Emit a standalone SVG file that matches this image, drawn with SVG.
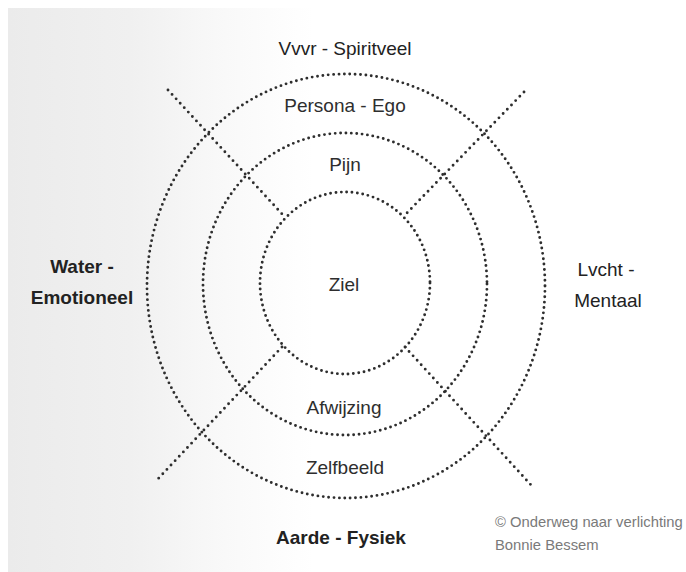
<svg xmlns="http://www.w3.org/2000/svg" width="686" height="572" viewBox="0 0 686 572">
<defs>
<linearGradient id="paper" x1="0" y1="0" x2="1" y2="0">
<stop offset="0" stop-color="#ebebeb"/>
<stop offset="0.18" stop-color="#f0f0f0"/>
<stop offset="0.32" stop-color="#f9f9f9"/>
<stop offset="0.45" stop-color="#ffffff"/>
</linearGradient>
<style>
.ring{fill:none;stroke:#2e2e2e;stroke-width:2.9;stroke-linecap:round;stroke-dasharray:0 5.4}
.cut{fill:none;stroke:#2e2e2e;stroke-width:2.9;stroke-linecap:round;stroke-dasharray:0 6}
.lbl{font-family:"Liberation Sans",Arial,sans-serif;font-size:19px;fill:#2e2e2e;text-anchor:middle}
.el{font-family:"Liberation Sans",Arial,sans-serif;font-size:19px;fill:#222;text-anchor:middle}
.b{font-weight:bold}
.copy{font-family:"Liberation Sans",Arial,sans-serif;font-size:14.8px;fill:#7a7a7a}
</style>
</defs>
<rect width="686" height="572" fill="#ffffff"/>
<rect x="8" y="8" width="678" height="564" fill="url(#paper)"/>

<g id="connectors">
<line class="cut" x1="168" y1="90" x2="283" y2="215"/>
<line class="cut" x1="524" y1="92" x2="405" y2="215"/>
<line class="cut" x1="282" y1="347" x2="156" y2="481"/>
<line class="cut" x1="405" y1="347" x2="531" y2="485"/>
</g>

<g id="ring-outer">
<ellipse class="ring" cx="346" cy="286" rx="199" ry="212"/>
<text class="lbl" x="345" y="112">Persona - Ego</text>
<text class="lbl" x="345" y="474">Zelfbeeld</text>
</g>

<g id="ring-middle">
<ellipse class="ring" cx="345" cy="284" rx="142" ry="151"/>
<text class="lbl" x="345" y="171">Pijn</text>
<text class="lbl" x="344" y="414">Afwijzing</text>
</g>

<g id="ring-inner">
<ellipse class="ring" cx="345" cy="283" rx="85" ry="91"/>
<text class="lbl" x="344" y="291">Ziel</text>
</g>

<g id="vuur">
<text class="el" x="345" y="55">Vvvr - Spiritveel</text>
</g>
<g id="water">
<text class="el b" x="82" y="273">Water -</text>
<text class="el b" x="82" y="304">Emotioneel</text>
</g>
<g id="lucht">
<text class="el" x="606" y="276">Lvcht -</text>
<text class="el" x="608" y="307">Mentaal</text>
</g>
<g id="aarde">
<text class="el b" x="341" y="544">Aarde - Fysiek</text>
</g>
<g id="copyright">
<text class="copy" x="495" y="527">© Onderweg naar verlichting</text>
<text class="copy" x="495" y="550">Bonnie Bessem</text>
</g>
</svg>
